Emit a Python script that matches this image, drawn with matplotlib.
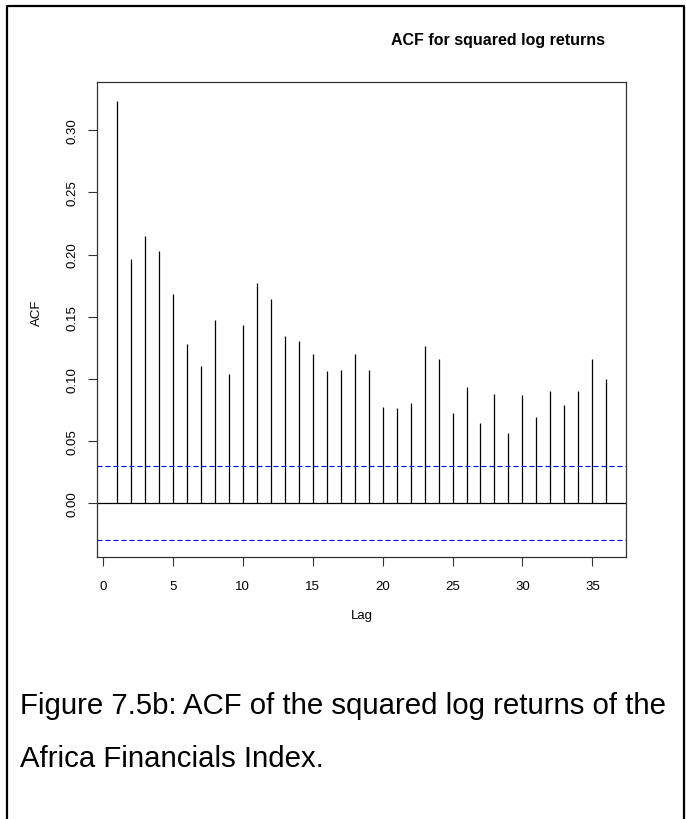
import matplotlib
matplotlib.use("Agg")
import matplotlib.pyplot as plt
from matplotlib.lines import Line2D

plt.rcParams['font.family'] = ['Liberation Sans', 'DejaVu Sans']

# ACF values of squared log returns, lags 1..36
lags = list(range(1, 37))
acf_vals = [0.324, 0.196, 0.215, 0.203, 0.168, 0.128, 0.110, 0.147, 0.104, 0.143,
            0.177, 0.164, 0.134, 0.130, 0.120, 0.106, 0.107, 0.120, 0.107, 0.077,
            0.076, 0.080, 0.126, 0.116, 0.072, 0.093, 0.064, 0.088, 0.056, 0.087,
            0.069, 0.090, 0.079, 0.090, 0.116, 0.100]
conf_limit = 0.0298
x_ticks = [0, 5, 10, 15, 20, 25, 30, 35]
y_ticks = [0.00, 0.05, 0.10, 0.15, 0.20, 0.25, 0.30]

W, H = 686, 820
fig = plt.figure(figsize=(W / 100, H / 100), dpi=100)

def px(x0, y0, x1, y1):
    # pixel box -> figure fraction rect
    return [x0 / W, 1 - y1 / H, (x1 - x0) / W, (y1 - y0) / H]

ax = fig.add_axes(px(97, 83, 626, 558))

ax.vlines(lags, 0, acf_vals, color='black', lw=0.9)
ax.axhline(0, color='black', lw=0.9)
dash = (0, (4.5, 2.7))
ax.axhline(conf_limit, color='blue', lw=0.8, linestyle=dash)
ax.axhline(-conf_limit, color='blue', lw=0.8, linestyle=dash)

ax.set_xlim(-0.41, 37.4)
ax.set_ylim(-0.0437, 0.339)
ax.set_xticks(x_ticks)
ax.set_xticklabels([str(v) for v in x_ticks])
ax.set_yticks(y_ticks)
ax.set_yticklabels([f"{v:.2f}" for v in y_ticks], rotation=90, va='center')

for s in ax.spines.values():
    s.set_linewidth(0.9)
    s.set_color('#333333')
ax.tick_params(axis='both', length=6.5, width=0.8, labelsize=9.5, color='#333333')
ax.tick_params(axis='y', pad=7)
ax.tick_params(axis='x', pad=10)

fig.text(37 / W, 1 - 313 / H, "ACF", rotation=90, ha='center', va='center', fontsize=9.5)
fig.text(362 / W, 1 - 616 / H, "Lag", ha='center', va='center', fontsize=9.5)
fig.text(498 / W, 1 - 40 / H, "ACF for squared log returns", ha='center', va='center',
         fontsize=11.5, fontweight='bold')

fig.text(20 / W, 1 - 706 / H, "Figure 7.5b: ACF of the squared log returns of the",
         ha='left', va='center', fontsize=21.2)
fig.text(20 / W, 1 - 759 / H, "Africa Financials Index.",
         ha='left', va='center', fontsize=21.2)

# outer frame (open at the bottom)
frame_x = [7 / W, 7 / W, 684 / W, 684 / W]
frame_y = [0, 1 - 7 / H, 1 - 7 / H, 0]
fig.add_artist(Line2D(frame_x, frame_y, transform=fig.transFigure, color='black', lw=1.6))

fig.savefig("out.png", dpi=100)
